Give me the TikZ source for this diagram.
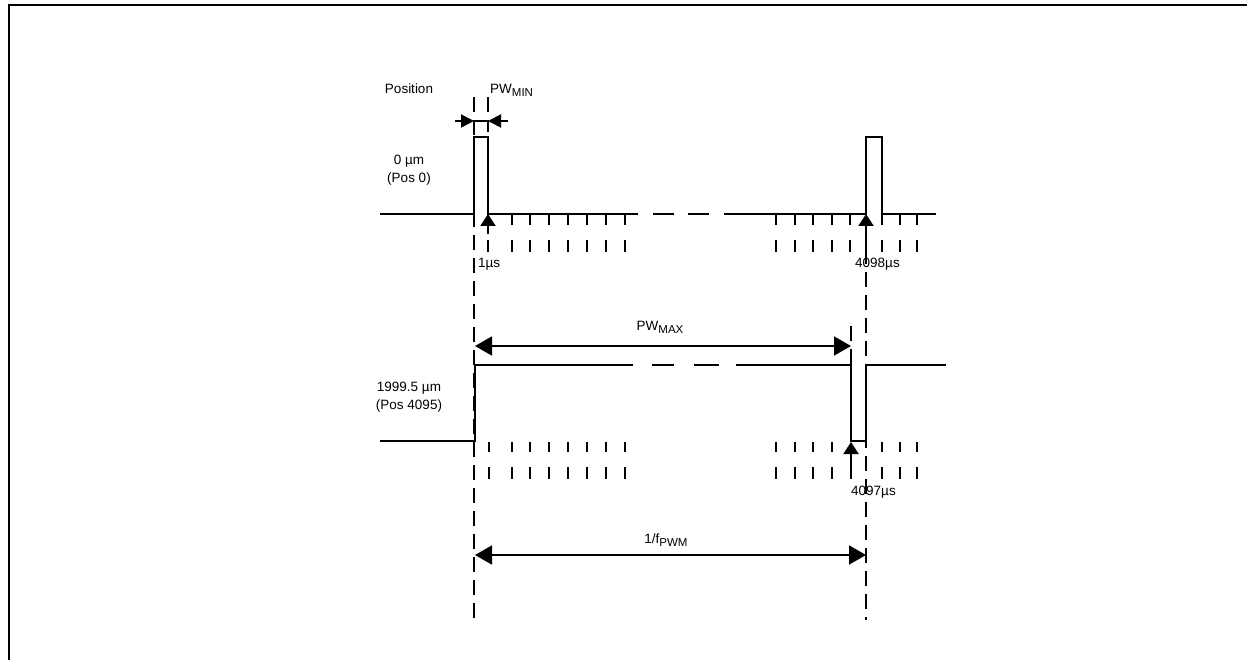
\documentclass[tikz,border=0pt]{standalone}
\usepackage{fontspec}
\setmainfont{Liberation Sans}
\usetikzlibrary{arrows.meta}
\newcommand{\subtext}[1]{\raisebox{-0.4ex}{\fontsize{11.5}{12}\selectfont #1}}
\begin{document}
\begin{tikzpicture}[x=1pt,y=-1pt,
  wave/.style={line width=1.9pt},
  tickmark/.style={line width=1.9pt},
  guide/.style={line width=1.6pt, dash pattern=on 15pt off 8pt},
  bigdim/.style={line width=1.9pt, {Triangle[length=17pt,width=19pt]}-{Triangle[length=17pt,width=19pt]}},
  smallhead/.style={line width=1.9pt, -{Triangle[length=13pt,width=13pt]}},
  uparrow/.style={line width=1.9pt, -{Triangle[length=12pt,width=15pt]}},
  lbl/.style={font=\fontsize{13.5}{18}\selectfont, inner sep=0pt},
]
\useasboundingbox (0,0) rectangle (1247,660);
\draw[line width=1.8pt] (9,660) -- (9,5) -- (1247,5);

% guide lines
\draw[guide] (474,97) -- (474,620);
\draw[guide] (488,97) -- (488,132);
\draw[guide] (866,226) -- (866,620);
\draw[guide] (851,326) -- (851,364);

% top waveform
\draw[wave] (380,214) -- (474,214) -- (474,137) -- (488,137) -- (488,214) -- (638,214);
\draw[wave] (653,214) -- (674,214);
\draw[wave] (688,214) -- (709,214);
\draw[wave] (724,214) -- (866,214) -- (866,137) -- (882,137) -- (882,214) -- (936,214);
\foreach \x in {512,530,549,568,587,606,625,776,795,813,832,850,882,900,917}
  \draw[tickmark] (\x,214) -- (\x,225);
\foreach \x in {488,512,530,549,568,587,606,625,776,795,813,832,850,866,882,900,917}
  \draw[tickmark] (\x,240) -- (\x,252);

% bottom waveform
\draw[wave] (380,441) -- (475,441) -- (475,365) -- (633,365);
\draw[wave] (652,365) -- (674,365);
\draw[wave] (694,365) -- (719,365);
\draw[wave] (736,365) -- (851,365) -- (851,441) -- (866,441) -- (866,365) -- (946,365);
\foreach \x in {489,512,530,549,568,587,606,625,776,795,813,832,882,900,917}
  \draw[tickmark] (\x,442) -- (\x,452);
\foreach \x in {489,512,530,549,568,587,606,625,776,795,813,832,851,882,900,917}
  \draw[tickmark] (\x,467) -- (\x,479);

% named points for dimension arrows
\coordinate (minL) at (455,121);
\coordinate (minA) at (474,121);
\coordinate (minB) at (488,121);
\coordinate (minR) at (508,121);
\coordinate (t1b) at (488,234);
\coordinate (t1) at (488,214);
\coordinate (t2b) at (866,240);
\coordinate (t2) at (866,214);
\coordinate (t3b) at (851,467);
\coordinate (t3) at (851,442);
\coordinate (maxA) at (475,346);
\coordinate (maxB) at (851,346);
\coordinate (perA) at (475,555);
\coordinate (perB) at (866,555);

\draw[line width=1.9pt] (minA) -- (minB);
\draw[smallhead] (minL) -- (minA);
\draw[smallhead] (minR) -- (minB);
\draw[uparrow] (t1b) -- (t1);
\draw[uparrow] (t2b) -- (t2);
\draw[uparrow] (t3b) -- (t3);
\draw[bigdim] (maxA) -- (maxB);
\draw[bigdim] (perA) -- (perB);

% labels
\node[lbl] (pos) at (409,89) {Position};
\node[lbl, anchor=west] (pwmin) at (490,90) {PW\subtext{MIN}};
\node[lbl, align=center] (p0) at (409,170) {0 µm\\(Pos 0)};
\node[lbl, anchor=west] (l1) at (478,264) {1µs};
\node[lbl, anchor=west] (l2) at (855,264) {4098µs};
\node[lbl] (pwmax) at (660,327) {PW\subtext{MAX}};
\node[lbl, align=center] (p1) at (409,397) {1999.5 µm\\(Pos 4095)};
\node[lbl, anchor=west] (l3) at (851,492) {4097µs};
\node[lbl] (per) at (666,540) {1/f\subtext{PWM}};
\end{tikzpicture}
\end{document}
